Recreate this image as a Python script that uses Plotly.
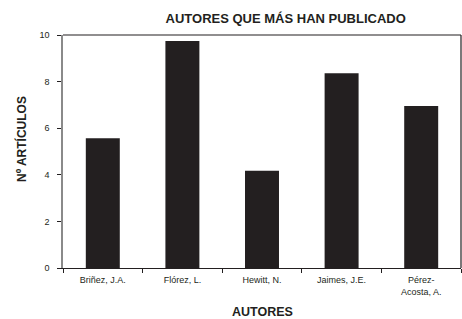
import plotly.graph_objects as go

autores = ["Briñez, J.A.", "Flórez, L.", "Hewitt, N.", "Jaimes, J.E.", "Pérez-<br>Acosta, A."]
articulos = [5.57, 9.74, 4.17, 8.36, 6.95]
y_ticks = [0, 2, 4, 6, 8, 10]

FONT = "Liberation Sans, Arial, sans-serif"
INK = "#231f20"

fig = go.Figure(go.Bar(
    x=autores, y=articulos,
    marker=dict(color=INK, line=dict(width=0)),
))

fig.update_layout(
    width=462, height=319, autosize=False,
    margin=dict(l=63, r=1, t=35, b=51, autoexpand=False),
    paper_bgcolor="white", plot_bgcolor="white",
    bargap=0.573,
    showlegend=False,
    font=dict(family=FONT, color=INK),
    title=dict(text="<b>AUTORES QUE MÁS HAN PUBLICADO</b>",
               x=258.5 / 462, xref="paper", xanchor="center",
               y=1 - 18 / 319, yref="container", yanchor="middle",
               font=dict(size=13, family=FONT, color=INK)),
    shapes=[
        dict(type="line", xref="paper", yref="paper", x0=0, x1=1, y0=1, y1=1,
             line=dict(color=INK, width=1.2)),
        dict(type="line", xref="paper", yref="paper", x0=1, x1=1, y0=0, y1=1,
             line=dict(color=INK, width=1.2)),
    ],
    annotations=[
        dict(text="<b>AUTORES</b>", xref="paper", yref="paper", x=0.5, y=0,
             yshift=-44, xanchor="center", yanchor="middle", showarrow=False,
             font=dict(size=12.5, family=FONT, color=INK)),
        dict(text="<b>Nº ARTÍCULOS</b>", xref="paper", yref="paper", x=0, y=(268 - 139) / 233,
             xshift=-42, xanchor="center", yanchor="middle", textangle=-90, showarrow=False,
             font=dict(size=12, family=FONT, color=INK)),
    ],
)

fig.update_xaxes(
    showline=True, linecolor=INK, linewidth=1.2,
    ticks="outside", ticklen=4, tickcolor=INK, tickson="boundaries",
    tickfont=dict(size=9, family=FONT, color=INK), ticklabelstandoff=3,
    showgrid=False, fixedrange=True, automargin=False,
)
fig.update_yaxes(
    range=[0, 10], tickvals=y_ticks,
    showline=True, linecolor="#8a8a8a", linewidth=1.5,
    ticks="outside", ticklen=4, tickcolor=INK,
    tickfont=dict(size=9, family=FONT, color=INK), ticklabelstandoff=6,
    showgrid=False, zeroline=False, fixedrange=True, automargin=False,
)

fig.write_html("out.html", config={"displayModeBar": False},
               post_script="document.body.style.margin='0';document.body.style.overflow='hidden';")
